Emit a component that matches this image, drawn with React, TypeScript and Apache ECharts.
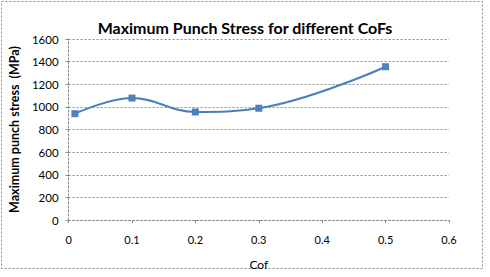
import React, { useEffect, useRef } from "react";
import * as echarts from "echarts";

const cofValues = [0.01, 0.1, 0.2, 0.3, 0.5];
const stressValues = [940, 1078, 955, 988, 1355];
const yTicks = [0, 200, 400, 600, 800, 1000, 1200, 1400, 1600];
const titleText = "Maximum Punch Stress for different CoFs";
const yAxisTitle = "Maximum punch stress  (MPa)";
const xAxisTitle = "Cof";

export default function App() {
  const ref = useRef<HTMLDivElement>(null);
  useEffect(() => {
    if (!ref.current) return;
    const chart = echarts.init(ref.current, null, { renderer: "svg" });
    const font = "Lato";
    chart.setOption({
      animation: false,
      backgroundColor: "#ffffff",
      title: {
        text: titleText,
        left: "center",
        top: 14,
        textStyle: { fontFamily: font, fontSize: 16, fontWeight: "bold", color: "#000" },
      },
      graphic: [
        {
          type: "rect",
          shape: { x: 1.5, y: 1.5, width: 481, height: 267 },
          style: { fill: "none", stroke: "#888", lineWidth: 1, lineDash: [2, 2] },
          silent: true,
        },
      ],
      grid: { left: 67, right: 41, top: 39, bottom: 57 },
      xAxis: {
        type: "value",
        min: 0,
        max: 0.6,
        interval: 0.1,
        name: xAxisTitle,
        nameLocation: "middle",
        nameGap: 38,
        nameTextStyle: { fontFamily: font, fontSize: 12, color: "#000" },
        axisLine: { show: true, lineStyle: { color: "#888", type: [2, 2], width: 1 } },
        axisTick: { show: true, length: 3, lineStyle: { color: "#888" } },
        axisLabel: {
          fontFamily: font,
          fontSize: 11,
          color: "#000",
          margin: 14,
          formatter: (v: number) => String(Math.round(v * 10) / 10),
        },
        splitLine: { show: false },
      },
      yAxis: {
        type: "value",
        min: 0,
        max: 1600,
        interval: 200,
        name: yAxisTitle,
        nameLocation: "middle",
        nameGap: 46,
        nameTextStyle: { fontFamily: font, fontSize: 12.5, fontWeight: "bold", color: "#000" },
        axisLine: { show: true, lineStyle: { color: "#888", type: [2, 2], width: 1 } },
        axisTick: { show: true, length: 3, lineStyle: { color: "#888" } },
        axisLabel: {
          fontFamily: font,
          fontSize: 11.5,
          color: "#000",
          margin: 10,
          customValues: yTicks,
          formatter: (v: number) => String(v),
        },
        splitLine: { show: true, lineStyle: { color: "#8c8c8c", type: [2, 2], width: 1 } },
      },
      series: [
        {
          type: "line",
          data: cofValues.map((c, i) => [c, stressValues[i]]),
          smooth: 0.4,
          symbol: "rect",
          symbolSize: 7,
          lineStyle: { color: "#4a7ebb", width: 2 },
          itemStyle: { color: "#4f81bd" },
        },
      ],
    });
    return () => chart.dispose();
  }, []);
  return (
    <div
      ref={ref}
      style={{ position: "fixed", left: 0, top: 0, width: 490, height: 277 }}
    />
  );
}
